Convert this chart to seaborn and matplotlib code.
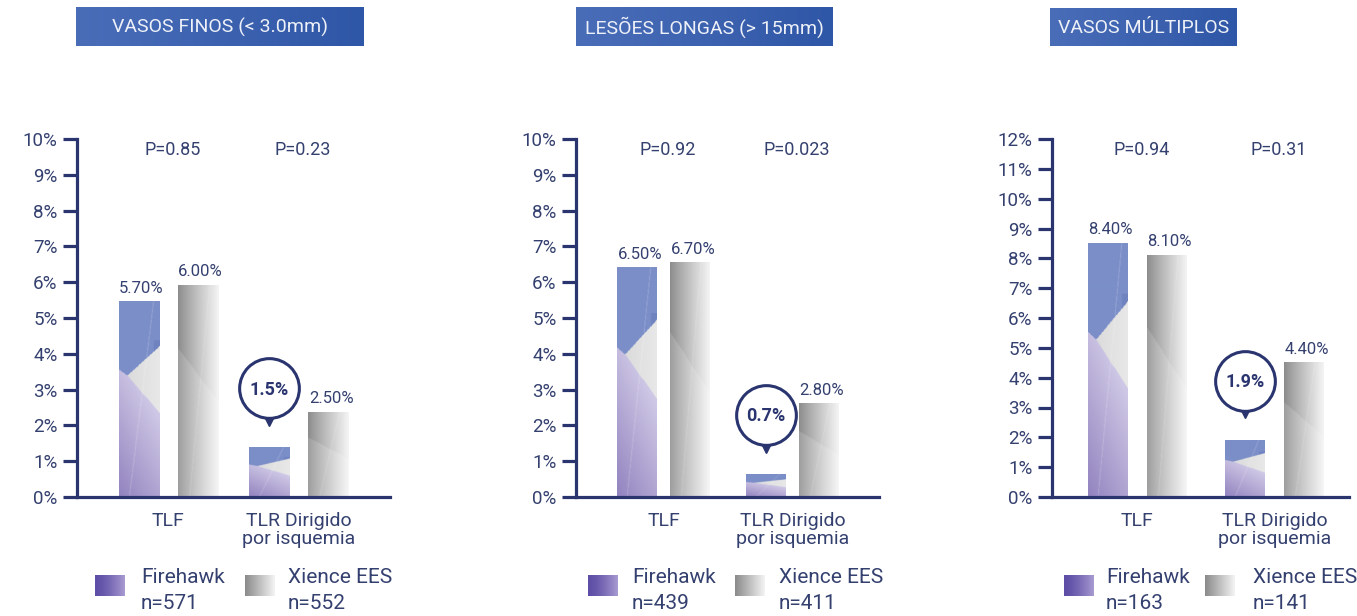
import numpy as np
import pandas as pd
import matplotlib
matplotlib.use("Agg")
import matplotlib.pyplot as plt
import seaborn as sns
from matplotlib.colors import to_rgb
from matplotlib.transforms import ScaledTranslation, blended_transform_factory

# dados (alturas das barras em %)
titles = ["VASOS FINOS (< 3.0mm)", "LESÕES LONGAS (> 15mm)", "VASOS MÚLTIPLOS"]
categories = ["TLF", "TLR Dirigido\npor isquemia"]
devices = ["Firehawk", "Xience EES"]
firehawk_vals = [[5.45, 1.37], [6.40, 0.62], [8.50, 1.90]]
xience_vals = [[5.92, 2.37], [6.54, 2.60], [8.10, 4.50]]
firehawk_labels = [["5.70%", "1.5%"], ["6.50%", "0.7%"], ["8.40%", "1.9%"]]
xience_labels = [["6.00%", "2.50%"], ["6.70%", "2.80%"], ["8.10%", "4.40%"]]
p_values = [["P=0.85", "P=0.23"], ["P=0.92", "P=0.023"], ["P=0.94", "P=0.31"]]
firehawk_n = [571, 439, 163]
xience_n = [552, 411, 141]
y_max = [10, 10, 12]

navy = "#2a3570"
text_col = "#34406f"
W, H = 1357, 616

sns.set_theme(style="white")
plt.rcParams["font.family"] = ["Roboto", "DejaVu Sans"]

fig = plt.figure(figsize=(W / 100, H / 100), dpi=100)


def px_axes(x0, y0, x1, y1):
    return fig.add_axes([x0 / W, 1 - y1 / H, (x1 - x0) / W, (y1 - y0) / H])


def mix(c1, c2, t):
    c1, c2 = np.array(to_rgb(c1)), np.array(to_rgb(c2))
    t = np.clip(t, 0, 1)[..., None]
    return c1 * (1 - t) + c2 * t


def facet_line(img, U, V, u0, u1, amount=0.15):
    d = np.abs(U - (u0 + (u1 - u0) * V))
    m = (d < 0.015)[..., None]
    return np.where(m, img * (1 - amount) + amount, img)


def firehawk_img(ny=240, nx=60):
    U, V = np.meshgrid(np.linspace(0, 1, nx), np.linspace(0, 1, ny))
    purple_top = np.where(U < 0.2, 0.65 - 0.03 * U / 0.2, 0.62 - 0.19 * (U - 0.2) / 0.8)
    gray_top = 0.62 + 0.15 * (U - 0.2) / 0.8
    img = np.zeros((ny, nx, 3))
    img[:] = to_rgb("#7b8ec8")
    strip = (U > 0.85) & (V > 0.55) & (V < 0.8)
    img[strip] = to_rgb("#6f83c0")
    gray = (U >= 0.2) & (V < gray_top)
    img[gray] = mix("#d8d8d8", "#e8e8e8", U)[gray]
    purple = V < purple_top
    img[purple] = mix("#9283bf", "#d6d0ea", (U * 0.6 + V / 0.62) / 1.4)[purple]
    return facet_line(img, U, V, 0.25, 0.85)


def xience_img(ny=240, nx=60):
    U, V = np.meshgrid(np.linspace(0, 1, nx), np.linspace(0, 1, ny))
    img = mix("#8c8c8c", "#f4f4f4", U ** 0.9)
    lower = V < (0.70 - 0.25 * U)
    img[lower] = img[lower] * 0.85 + 0.15
    return facet_line(img, U, V, 0.28, 0.78, 0.12)


# posicoes dos paineis em pixels: (esquerda, direita) do eixo
panel_px = [(77, 390), (576, 879), (1052, 1349)]
x_lims = [(-0.70, 1.70), (-0.68, 1.67), (-0.62, 1.54)]
group_px = [130, 129, 138]   # distancia entre categorias
pair_px = [59, 53, 59]       # distancia entre centros das barras
bar_px = 40
box_px = [(76, 7, 364, 46), (576, 7, 833, 46), (1050, 8, 1237, 46)]
legend_px = [(95, 141, 245, 288), (588, 632, 735, 779), (1064, 1106, 1205, 1253)]

for i in range(3):
    x0, x1 = panel_px[i]
    ax = fig.add_axes([x0 / W, 1 - 497 / H, (x1 - x0) / W, (497 - 139) / H])
    df = pd.DataFrame({
        "categoria": categories * 2,
        "dispositivo": [devices[0]] * 2 + [devices[1]] * 2,
        "valor": firehawk_vals[i] + xience_vals[i],
    })
    sns.barplot(data=df, x="categoria", y="valor", hue="dispositivo",
                palette=["#7b8ec8", "#b0b0b0"],
                width=2 * pair_px[i] / group_px[i], gap=1 - bar_px / pair_px[i],
                saturation=1, legend=False, errorbar=None, ax=ax)

    imgs = [firehawk_img(), xience_img()]
    for k, cont in enumerate(ax.containers):
        labels = firehawk_labels[i] if k == 0 else xience_labels[i]
        for j, bar in enumerate(cont):
            bx, bw, bh = bar.get_x(), bar.get_width(), bar.get_height()
            ax.imshow(imgs[k], extent=[bx, bx + bw, 0, bh], origin="lower",
                      aspect="auto", zorder=3, interpolation="bilinear")
            cx = bx + bw / 2
            if k == 0 and j == 1:
                # balao com o valor
                tr = lambda dy: ax.transData + ScaledTranslation(0, dy / 72, fig.dpi_scale_trans)
                ax.plot([cx], [bh], marker="v", ms=10, color=navy, transform=tr(21),
                        zorder=5, clip_on=False)
                ax.plot([cx], [bh], marker="o", ms=43, mfc="white", mec=navy, mew=2.2,
                        transform=tr(43), zorder=6, clip_on=False)
                ax.text(cx, bh, labels[j], transform=tr(42), ha="center", va="center",
                        fontsize=13, fontweight="bold", color=navy, zorder=7)
            else:
                ax.annotate(labels[j], (cx, bh), xytext=(2, 6.5), textcoords="offset points",
                            ha="center", va="baseline", fontsize=12, color=text_col,
                            zorder=7)

    blend = blended_transform_factory(ax.transData, ax.transAxes)
    for j, p in enumerate(p_values[i]):
        ax.text(j + 0.03, 0.955, p, transform=blend, ha="center", va="baseline",
                fontsize=13, color=text_col)

    ax.set_xlim(*x_lims[i])
    ax.set_ylim(0, y_max[i])
    ax.set_yticks(range(0, y_max[i] + 1))
    ax.set_yticklabels([f"{t}%" for t in range(0, y_max[i] + 1)])
    ax.set_xlabel("")
    ax.set_ylabel("")
    for s in ["top", "right"]:
        ax.spines[s].set_visible(False)
    for s in ["left", "bottom"]:
        ax.spines[s].set_color(navy)
        ax.spines[s].set_linewidth(2.3)
        ax.spines[s].set_zorder(8)
    ax.tick_params(axis="y", length=10, width=2.3, color=navy, pad=4,
                   labelsize=13.5, labelcolor=text_col, left=True)
    ax.tick_params(axis="x", length=0, pad=11, labelsize=14, labelcolor=text_col)
    for lab in ax.get_xticklabels():
        lab.set_linespacing(0.95)
    ax.set_facecolor("none")

    # caixa do titulo
    bx0, by0, bx1, by1 = box_px[i]
    tax = px_axes(bx0, by0, bx1, by1)
    tax.imshow(mix("#4a6db8", "#2f57a7", np.linspace(0, 1, 200))[None, :, :],
               aspect="auto", extent=[0, 1, 0, 1])
    tax.text(0.5, 0.47, titles[i], ha="center", va="center", color="#eef1f8",
             fontsize=14, transform=tax.transAxes)
    tax.axis("off")

    # legenda
    fx, ftx, xx, xtx = legend_px[i]
    lax = px_axes(fx, 575, fx + 30, 596)
    lax.imshow(mix("#5e4ea6", "#a99cd2", np.linspace(0, 1, 100) ** 1.5)[None, :, :],
               aspect="auto", extent=[0, 1, 0, 1])
    lax.axis("off")
    lax = px_axes(xx, 575, xx + 30, 596)
    lax.imshow(mix("#8a8a8a", "#f4f4f4", np.linspace(0, 1, 100))[None, :, :],
               aspect="auto", extent=[0, 1, 0, 1])
    lax.axis("off")
    for tx, name, n in [(ftx, devices[0], firehawk_n[i]), (xtx, devices[1], xience_n[i])]:
        fig.text(tx / W, 1 - 583 / H, name, fontsize=15, color=text_col, va="baseline")
        fig.text(tx / W, 1 - 609 / H, f"n={n}", fontsize=15, color=text_col, va="baseline")

fig.savefig("out.png", dpi=100)
